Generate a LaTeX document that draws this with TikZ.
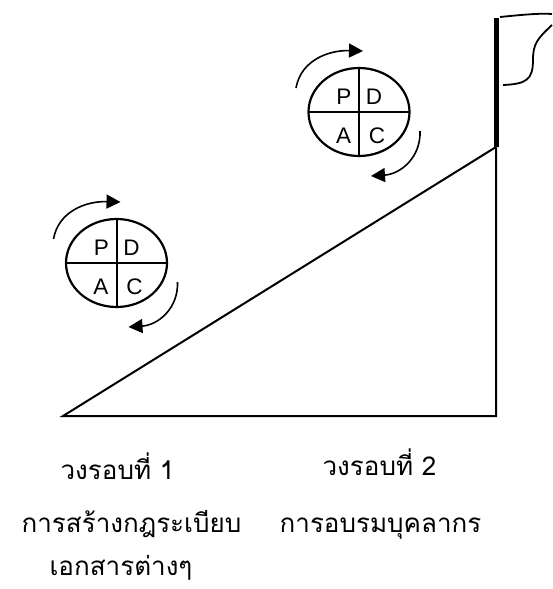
\documentclass[tikz,border=0pt]{standalone}
\usepackage{fontspec}
\setmainfont{Liberation Sans}
\newfontfamily\thaifont[Script=Thai]{Loma}
\usetikzlibrary{shapes.geometric,arrows.meta,calc}
\begin{document}
\begin{tikzpicture}[x=1pt,y=-1pt,
  pdca/.style={draw,ellipse,minimum width=101pt,minimum height=88pt,inner sep=0pt,outer sep=0pt,line width=2.2pt},
  quad/.style={line width=2pt},
  letter/.style={font=\fontsize{22.5}{26}\selectfont,inner sep=0pt},
  cyc/.style={line width=1.6pt,-{Triangle[length=14pt,width=14pt]}},
  edge/.style={line width=2pt},
  caption/.style={font=\thaifont\fontsize{26}{31}\selectfont,inner sep=0pt,anchor=base}
]
\useasboundingbox (0,0) rectangle (552,589);
% triangle
\coordinate (bl) at (63,416);
\coordinate (br) at (496,416);
\coordinate (tp) at (496,147);
\coordinate (poletop) at (496.5,18);
\draw[edge,line join=miter] (tp) -- (bl) -- (br) -- (tp);
% pole and flag
\draw[line width=5.5pt] ($(tp)+(0.5,0)$) -- (poletop);
\draw[line width=1.8pt] (500,17) .. controls (520,15) and (540,13) .. (552,14);
\draw[line width=1.8pt] (552,25) .. controls (537,39) and (533,44) .. (533,60) .. controls (533,80) and (526,84) .. (503,85);
% PDCA circles
\foreach \n/\x/\y in {c1/116.5/263, c2/359/112}{
  \node[pdca] (\n) at (\x,\y) {};
  \draw[quad] (\n.north) -- (\n.south);
  \draw[quad] (\n.west) -- (\n.east);
  \node[letter] (\n P) at ($(\n.center)+(-15,-15)$) {P};
  \node[letter] (\n D) at ($(\n.center)+(15,-15)$) {D};
  \node[letter] (\n A) at ($(\n.center)+(-15.5,23.5)$) {A};
  \node[letter] (\n C) at ($(\n.center)+(18,23.5)$) {C};
  \draw[cyc] ($(\n.center)+(-63,-24)$) .. controls ($(\n.center)+(-58,-52)$) and ($(\n.center)+(-30,-62)$) .. ($(\n.center)+(4,-61)$);
  \draw[cyc] ($(\n.center)+(61,19)$) .. controls ($(\n.center)+(62,45)$) and ($(\n.center)+(42,62)$) .. ($(\n.center)+(12,64)$);
}
% captions
\node[caption] (r1) at (117.5,479) {วงรอบที่ 1};
\node[caption] (t1a) at (131.5,532) {การสร้างกฎระเบียบ};
\node[caption] (t1b) at (121,575) {เอกสารต่างๆ};
\node[caption] (r2) at (379.5,475) {วงรอบที่ 2};
\node[caption] (t2) at (380.5,532) {การอบรมบุคลากร};
\end{tikzpicture}
\end{document}
